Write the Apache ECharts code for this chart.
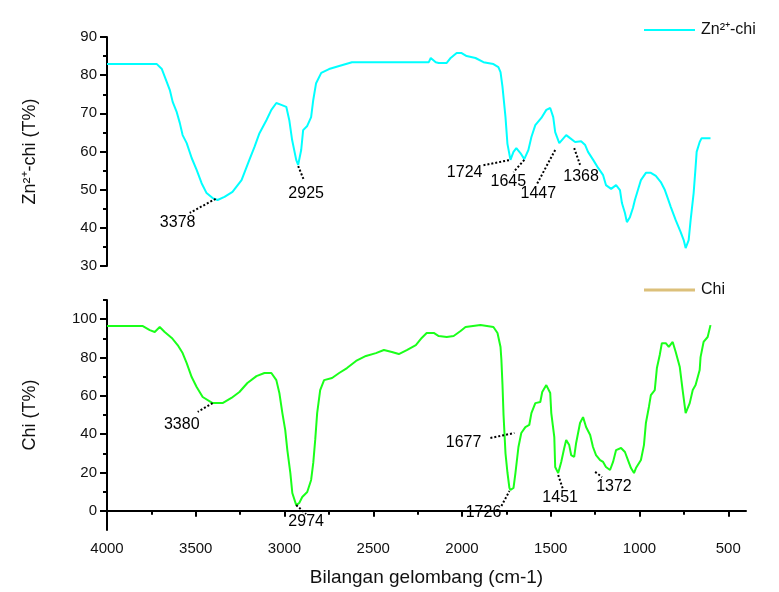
<!DOCTYPE html>
<html>
<head>
<meta charset="utf-8">
<title>FTIR Zn2+-chi / Chi</title>
<script src="https://cdn.jsdelivr.net/npm/echarts@6/dist/echarts.min.js"></script>
<style>
  html, body { margin: 0; padding: 0; background: #fff; }
  #ftir { width: 779px; height: 592px; }
</style>
</head>
<body>
<div id="ftir"></div>
<script>
// wavenumber (cm-1) and transmittance (%)
var zn_wn = [4000,3719,3691,3663,3646,3630,3607,3590,3574,3551,3523,3495,3467,3439,3405,3377,3338,3293,3242,3198,3169,3141,3102,3074,3046,3018,2990,2973,2957,2934,2923,2906,2895,2872,2850,2838,2822,2793,2749,2692,2620,2513,2356,2187,2176,2148,2131,2086,2064,2030,2002,1974,1924,1879,1823,1795,1783,1772,1755,1744,1727,1710,1694,1671,1649,1626,1609,1587,1553,1525,1503,1486,1475,1452,1441,1413,1391,1363,1329,1306,1290,1261,1233,1205,1189,1160,1132,1110,1099,1082,1071,1054,1037,1026,1009,992,964,936,908,880,857,841,824,796,768,751,740,723,712,695,684,678,661,650,600];
var zn_t = [82.9,82.9,81.6,78.2,76.1,73,70.3,67.5,64.3,62.2,58.3,55.2,51.7,49.1,47.8,47.3,48.1,49.4,52.5,57.8,61.2,64.8,68.2,70.9,72.7,72.2,71.7,68.2,63,57.8,56.5,60.4,65.6,66.7,69,73.5,77.9,80.6,81.6,82.4,83.4,83.4,83.4,83.4,84.5,83.4,83.2,83.2,84.5,85.8,85.8,85,84.5,83.4,82.9,82.1,80.8,77,69,62,57.8,59.9,60.9,59.6,58,60.4,63.8,66.9,68.8,70.9,71.4,69,65.1,62.2,62.5,64.3,63.5,62.5,62.7,61.7,59.9,57.8,55.7,53.8,51.2,50.2,51.2,49.9,46.5,43.9,41.5,42.8,45.2,47.3,49.9,52.5,54.4,54.4,53.6,52,49.9,47.8,45.5,42,38.9,36.8,34.7,36.8,42,49.1,55.9,59.9,62.5,63.5,63.5];

var chi_wn = [4000,3798,3759,3731,3703,3675,3635,3602,3574,3551,3523,3495,3461,3405,3349,3299,3254,3209,3158,3113,3074,3046,3029,3012,2996,2984,2967,2956,2934,2917,2900,2872,2850,2838,2827,2816,2799,2777,2732,2692,2648,2597,2541,2485,2440,2395,2356,2311,2260,2227,2199,2159,2131,2086,2047,2008,1980,1896,1823,1800,1783,1778,1772,1766,1755,1744,1733,1727,1710,1699,1682,1666,1643,1621,1609,1587,1559,1548,1525,1503,1497,1480,1475,1458,1441,1424,1413,1396,1385,1368,1357,1335,1318,1301,1278,1262,1245,1222,1205,1189,1166,1149,1132,1104,1082,1065,1048,1031,1020,992,975,964,947,936,914,902,886,874,852,835,813,796,773,757,740,717,700,684,661,656,639,616,600];
var chi_t = [96.4,96.4,94.3,93.3,95.9,93.3,90.2,86.5,82.3,77.1,69.8,64.6,59.4,56.2,56.2,58.9,62,66.7,70.3,71.9,71.9,68.2,61.5,51,42.2,31.7,19.7,9.3,3,4.1,7.2,9.8,16.1,25,37,51,63,68.2,69.3,71.9,74.5,78.2,80.8,82.3,83.9,82.9,81.8,83.9,86.5,90.2,92.8,92.8,91.2,90.7,91.2,93.8,95.9,96.9,95.9,92.8,85.5,78.7,66,50,30,20,12,10.9,11.9,19.7,33.3,40.6,43.7,44.8,51,56.2,56.8,62,65.6,61.5,51,38.5,22.9,19.7,25.5,32.8,37,34.3,29.1,28.1,35.4,45.8,48.9,43.7,39.6,33.3,29.1,26.5,25.5,22.9,21.3,25.5,31.7,32.8,30.7,26.5,22.3,19.7,22.3,26.5,34.3,45.8,54.2,60.4,63,74.5,81.3,87.5,87.5,85.5,88.1,82.9,75,63,51,56.2,63,65.6,73.5,80.2,88.1,90.7,96.9];

// tick values
var x_major = [4000,3500,3000,2500,2000,1500,1000,500];
var x_minor = [3750,3250,2750,2250,1750,1250,750];
var chi_y_major = [0,20,40,60,80,100];
var chi_y_minor = [10,30,50,70,90,110];

// peak labels: text, label centre [wn, T], leader from / to [wn, T]
var zn_peaks = ['3378','2925','1724','1645','1447','1368'];
var zn_peak_label = [[3602,41.5],[2878,49.1],[1985,54.6],[1739,52],[1570,49.1],[1329,53.3]];
var zn_peak_from = [[3388,47.6],[2923,56.2],[1879,56.4],[1649,57.8],[1475,60.4],[1368,60.9]];
var zn_peak_to = [[3534,43.9],[2889,52.3],[1727,57.8],[1710,54.6],[1581,51.2],[1335,56.5]];

var chi_peaks = ['3380','2974','1677','1726','1451','1372'];
var chi_peak_label = [[3579,44.8],[2878,-5.8],[1991,35.4],[1879,-1.1],[1447,6.7],[1144,12.4]];
var chi_peak_from = [[3405,56.2],[2934,3],[1840,38],[1778,2.5],[1458,18.7],[1250,20.3]];
var chi_peak_to = [[3489,51.6],[2878,-1.7],[1705,40.6],[1733,10.3],[1430,10.9],[1211,17.6]];

function pairs(xs, ys) {
    return xs.map(function(x, i) { return [x, ys[i]]; });
}

function peakPoints(texts, pos) {
    return texts.map(function(t, i) {
        return { coord: pos[i], value: t };
    });
}

function peakLines(from, to) {
    return from.map(function(f, i) {
        return [{ coord: f }, { coord: to[i] }];
    });
}

function plain(v) {
    return String(v);
}

var font = 'Liberation Sans, Arial, sans-serif';
var axisCol = '#000';

var chart = echarts.init(document.getElementById('ftir'), null, { renderer: 'canvas' });

var peakLabel = {
    show: true,
    position: 'inside',
    formatter: '{c}',
    color: '#000',
    fontSize: 16,
    fontFamily: font
};

var option = {
    animation: false,
    backgroundColor: '#fff',
    textStyle: { fontFamily: font },
    grid: [
        { left: 107, right: 33, top: 37, height: 229 },
        { left: 107, right: 33, top: 300, height: 230 }
    ],
    legend: [
        {
            data: ['Zn²⁺-chi'],
            left: 639, top: 17,
            icon: 'rect',
            itemWidth: 51, itemHeight: 2, itemGap: 4,
            textStyle: { fontSize: 16, color: '#111', padding: [0, 0, 0, 1] }
        },
        {
            data: [{ name: 'Chi', itemStyle: { color: '#dcc07a' } }],
            left: 639, top: 277,
            icon: 'rect',
            itemWidth: 51, itemHeight: 3, itemGap: 4,
            textStyle: { fontSize: 16, color: '#111', padding: [0, 0, 0, 1] }
        }
    ],
    xAxis: [
        {
            gridIndex: 0, type: 'value', min: 400, max: 4000, inverse: true,
            show: false
        },
        {
            gridIndex: 1, type: 'value', min: 400, max: 4000, inverse: true,
            position: 'bottom',
            name: 'Bilangan gelombang (cm-1)',
            nameLocation: 'middle', nameGap: 38,
            nameTextStyle: { fontSize: 19, color: '#111' },
            axisLine: { lineStyle: { color: axisCol, width: 2 } },
            axisTick: { customValues: x_major, length: 6, lineStyle: { width: 2 } },
            axisLabel: { customValues: x_major, formatter: plain, fontSize: 15, color: '#111', margin: 11 },
            splitLine: { show: false }
        },
        {
            gridIndex: 1, type: 'value', min: 400, max: 4000, inverse: true,
            position: 'bottom',
            axisLine: { show: false },
            axisTick: { customValues: x_minor, length: 4, lineStyle: { color: axisCol, width: 2 } },
            axisLabel: { show: false },
            splitLine: { show: false }
        }
    ],
    yAxis: [
        {
            gridIndex: 0, type: 'value', min: 30, max: 90, interval: 10,
            name: 'Zn²⁺-chi (T%)',
            nameLocation: 'middle', nameGap: 68,
            nameTextStyle: { fontSize: 18, color: '#111' },
            axisLine: { show: true, lineStyle: { color: axisCol, width: 2 } },
            axisTick: { show: true, length: 7, lineStyle: { width: 2 } },
            minorTick: { show: true, splitNumber: 2, length: 4, lineStyle: { color: axisCol, width: 2 } },
            axisLabel: { formatter: plain, fontSize: 15, color: '#111', margin: 10 },
            splitLine: { show: false }
        },
        {
            gridIndex: 1, type: 'value', min: -10, max: 110,
            position: 'left',
            name: 'Chi (T%)',
            nameLocation: 'middle', nameGap: 68,
            nameTextStyle: { fontSize: 18, color: '#111' },
            axisLine: { show: true, lineStyle: { color: axisCol, width: 2 } },
            axisTick: { show: true, customValues: chi_y_major, length: 7, lineStyle: { width: 2 } },
            axisLabel: { customValues: chi_y_major, formatter: plain, fontSize: 15, color: '#111', margin: 10 },
            splitLine: { show: false }
        },
        {
            gridIndex: 1, type: 'value', min: -10, max: 110,
            position: 'left',
            axisLine: { show: false },
            axisTick: { show: true, customValues: chi_y_minor, length: 4, lineStyle: { color: axisCol, width: 2 } },
            axisLabel: { show: false },
            splitLine: { show: false }
        }
    ],
    series: [
        {
            name: 'Zn²⁺-chi',
            type: 'line',
            xAxisIndex: 0, yAxisIndex: 0,
            data: pairs(zn_wn, zn_t),
            symbol: 'none',
            lineStyle: { color: '#00ffff', width: 2 },
            itemStyle: { color: '#00ffff' },
            markPoint: {
                symbol: 'circle', symbolSize: 0,
                label: peakLabel,
                data: peakPoints(zn_peaks, zn_peak_label)
            },
            markLine: {
                silent: true, symbol: 'none',
                label: { show: false },
                lineStyle: { color: '#000', type: 'dotted', width: 2 },
                data: peakLines(zn_peak_from, zn_peak_to)
            }
        },
        {
            name: 'Chi',
            type: 'line',
            xAxisIndex: 1, yAxisIndex: 1,
            data: pairs(chi_wn, chi_t),
            symbol: 'none',
            lineStyle: { color: '#1aff1a', width: 2 },
            itemStyle: { color: '#1aff1a' },
            markPoint: {
                symbol: 'circle', symbolSize: 0,
                label: peakLabel,
                data: peakPoints(chi_peaks, chi_peak_label)
            },
            markLine: {
                silent: true, symbol: 'none',
                label: { show: false },
                lineStyle: { color: '#000', type: 'dotted', width: 2 },
                data: peakLines(chi_peak_from, chi_peak_to)
            }
        }
    ]
};

chart.setOption(option);
</script>
</body>
</html>
